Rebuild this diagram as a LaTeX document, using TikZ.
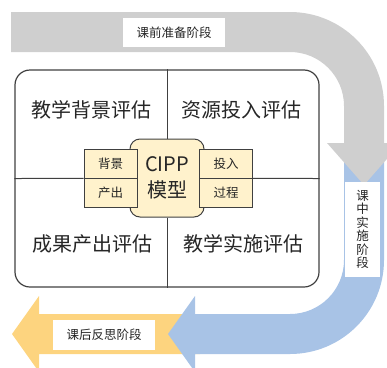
\documentclass[tikz,border=0pt]{standalone}
\usepackage{fontspec}
\setmainfont{Noto Sans CJK SC}
\definecolor{grayband}{HTML}{CFCFCF}
\definecolor{blueband}{HTML}{A8C3E6}
\definecolor{yelband}{HTML}{FDD47F}
\definecolor{cream}{HTML}{FFF2CC}
\definecolor{edge}{HTML}{404040}
\definecolor{txt}{HTML}{262626}
\tikzset{
  stagelabel/.style={fill=white, draw=none, inner sep=0pt, text=txt, font=\fontsize{12.5}{13.5}\selectfont},
  quadtext/.style={text=txt, font=\fontsize{20}{22}\selectfont, inner sep=0pt},
  smallbox/.style={draw=edge, line width=0.9pt, fill=cream, minimum width=53pt, minimum height=29pt, inner sep=0pt, text=txt, font=\fontsize{12.5}{13}\selectfont},
  divider/.style={draw=edge, line width=1pt},
}
\begin{document}
\begin{tikzpicture}[x=1pt,y=1pt]
\useasboundingbox (0,0) rectangle (387,-367);
\clip (0,0) rectangle (387,-367);
% yellow arrow (after-class)
\fill[yelband] (200,-314) -- (39,-314) -- (39,-296) -- (12,-334) -- (39,-372) -- (39,-354) -- (200,-354) -- cycle;
% blue arrow (in-class)
\fill[blueband] (344,-160) -- (384,-160) -- (384,-260) arc[start angle=0,end angle=-90,radius=94]
  -- (195,-354) -- (195,-372) -- (168,-334) -- (195,-296) -- (195,-314) -- (290,-314)
  arc[start angle=-90,end angle=0,radius=54] -- cycle;
% gray arrow (pre-class)
\fill[grayband] (11,-12) -- (290,-12) arc[start angle=90,end angle=0,radius=94]
  -- (384,-143) -- (401,-143) -- (364,-185) -- (327,-143) -- (344,-143) -- (344,-106)
  arc[start angle=0,end angle=90,radius=54] -- (11,-52) -- cycle;
% stage labels
\node[stagelabel, minimum width=102pt, minimum height=29pt] (pre) at (174,-32.5) {课前准备阶段};
\node[stagelabel, minimum width=102pt, minimum height=30pt] (post) at (104,-335) {课后反思阶段};
\node[stagelabel, minimum width=35pt, minimum height=95pt, align=center] (mid) at (362.5,-229.5) {课\\中\\实\\施\\阶\\段};
% main frame
\node[draw=edge, line width=1.2pt, rounded corners=15pt, minimum width=304pt, minimum height=217pt, inner sep=0pt] (main) at (167,-178.5) {};
% CIPP core
\node[draw=edge, line width=1pt, fill=cream, rounded corners=10pt, minimum width=74pt, minimum height=78pt, inner sep=0pt, align=center, text=txt, font=\fontsize{20}{26}\selectfont] (cipp) at (167,-178) {CIPP\\模型};
\node[smallbox] (bg) at (110.5,-163.5) {背景};
\node[smallbox] (cp) at (110.5,-192.5) {产出};
\node[smallbox] (tr) at (226,-163.5) {投入};
\node[smallbox] (gc) at (226,-192.5) {过程};
% dividers
\draw[divider] (main.north) -- (cipp.north);
\draw[divider] (cipp.south) -- (main.south);
\draw[divider] (main.west) -- (bg.south west);
\draw[divider] (tr.south east) -- (main.east);
% quadrant texts
\node[quadtext] (q1) at (91,-110) {教学背景评估};
\node[quadtext] (q2) at (241,-110) {资源投入评估};
\node[quadtext] (q3) at (92,-244) {成果产出评估};
\node[quadtext] (q4) at (243,-244) {教学实施评估};
\end{tikzpicture}
\end{document}
